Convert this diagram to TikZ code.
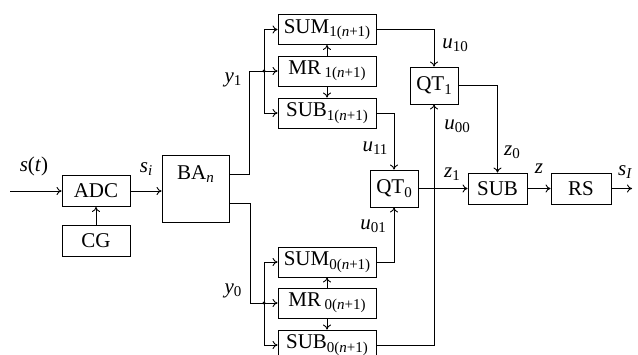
\documentclass[tikz,border=0pt]{standalone}
\usepackage{fontspec}
\setmainfont{Liberation Serif}
\usetikzlibrary{arrows.meta}
% lowered, smaller subscript in the text font
\newcommand{\lsub}[1]{\raisebox{-0.35ex}{\fontsize{15}{15}\selectfont #1}}
\newcommand{\nn}{\textit{n}}
\begin{document}
\begin{tikzpicture}[x=1pt,y=-1pt,
  every node/.style={font=\fontsize{21}{24}\selectfont},
  blk/.style={draw,line width=0.9pt,inner sep=0pt,minimum height=30pt},
  wide/.style={blk,minimum width=98pt},
  sig/.style={inner sep=0pt},
  line/.style={line width=0.9pt},
  arr/.style={line,-{To[length=5pt,width=8pt]}}]
\useasboundingbox (0,0) rectangle (638,354);

% left chain
\node[blk,minimum width=68pt,minimum height=31pt] (adc) at (96,191) {ADC};
\node[blk,minimum width=68pt,minimum height=31pt] (cg) at (96,240.5) {CG};
\node[blk,minimum width=67pt,minimum height=67pt,
      label={[anchor=north,inner sep=0pt,yshift=-11pt]north:{BA\lsub{\nn}}}] (ba) at (195.5,188.5) {};

% upper branch
\node[wide] (sum1) at (327,29.5) {SUM\lsub{1(\nn+1)}};
\node[wide] (mr1)  at (327,71)   {MR\,\lsub{1(\nn+1)}};
\node[wide] (sub1) at (327,113)  {SUB\lsub{1(\nn+1)}};

% lower branch
\node[wide] (sum0) at (327,262) {SUM\lsub{0(\nn+1)}};
\node[wide] (mr0)  at (327,303) {MR\,\lsub{0(\nn+1)}};
\node[wide] (sub0) at (327,345) {SUB\lsub{0(\nn+1)}};

% quantizers and output chain
\node[blk,minimum width=48pt,minimum height=37pt] (qt1) at (434,85.5) {QT\lsub{1}};
\node[blk,minimum width=48pt,minimum height=37pt] (qt0) at (394,188.5) {QT\lsub{0}};
\node[blk,minimum width=59pt,minimum height=31pt] (sub) at (497.5,188.5) {SUB};
\node[blk,minimum width=60pt,minimum height=31pt] (rs) at (581,188.5) {RS};

% free ends and branch points
\coordinate (in) at (10,191);
\coordinate (out) at (632,188.5);
\coordinate (bo1) at (229,174);
\coordinate (bo0) at (229,203);
\coordinate (j1) at (264,71);
\coordinate (j0) at (264,303);

% connectors
\draw[arr] (in) -- (adc.west);
\draw[arr] (cg.north) -- (adc.south);
\draw[arr] (adc.east) -- (adc.east -| ba.west);

\draw[arr] (bo1) -- ++(20,0) |- (mr1.west);
\draw[arr] (j1) |- (sum1.west);
\draw[arr] (j1) |- (sub1.west);
\fill (j1) circle (1.6);
\draw[arr] (mr1.north) -- (sum1.south);
\draw[arr] (mr1.south) -- (sub1.north);

\draw[arr] (bo0) -- ++(21,0) |- (mr0.west);
\draw[arr] (j0) |- (sum0.west);
\draw[arr] (j0) |- (sub0.west);
\fill (j0) circle (1.6);
\draw[arr] (mr0.north) -- (sum0.south);
\draw[arr] (mr0.south) -- (sub0.north);

\draw[arr] (sum1.east) -| (qt1.north);
\draw[arr] (sub1.east) -| (qt0.north);
\draw[arr] (sum0.east) -| (qt0.south);
\draw[arr] (sub0.east) -| (qt1.south);

\draw[arr] (qt1.east) -| (sub.north);
\draw[arr] (qt0.east) -- (sub.west);
\draw[arr] (sub.east) -- (rs.west);
\draw[arr] (rs.east) -- (out);

% signal labels
\node[sig] (lst) at (34,166) {\textit{s}(\textit{t})};
\node[sig] (lsi) at (146,169) {\textit{s}\lsub{\textit{i}}};
\node[sig] (ly1) at (233,80) {\textit{y}\lsub{1}};
\node[sig] (ly0) at (233,291) {\textit{y}\lsub{0}};
\node[sig] (lu10) at (455,45) {\textit{u}\lsub{10}};
\node[sig] (lu11) at (375,148) {\textit{u}\lsub{11}};
\node[sig] (lu01) at (373,226) {\textit{u}\lsub{01}};
\node[sig] (lu00) at (457,126) {\textit{u}\lsub{00}};
\node[sig] (lz1) at (452,174) {\textit{z}\lsub{1}};
\node[sig] (lz0) at (512,152) {\textit{z}\lsub{0}};
\node[sig] (lz) at (539,169) {\textit{z}};
\node[sig] (lsI) at (625,172) {\textit{s}\lsub{\textit{I}}};
\end{tikzpicture}
\end{document}
